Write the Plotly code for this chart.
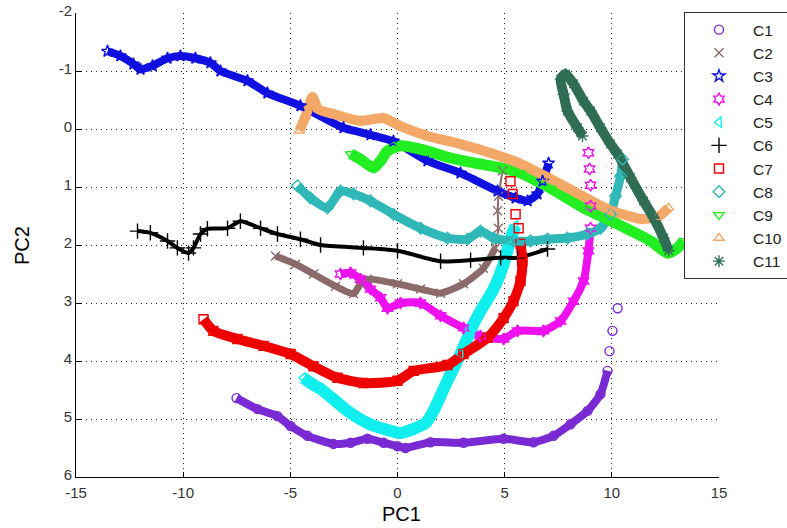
import plotly.graph_objects as go

# ---- data: principal-component trajectories for eleven cases ----
names = ["C1", "C2", "C3", "C4", "C5", "C6", "C7", "C8", "C9", "C10", "C11"]

c1_x = [-7.51, -6.53, -5.60, -4.99, -4.20, -2.99, -2.19, -1.40, -0.65, 0.00, 0.37, 1.54,
        3.08, 4.95, 6.35, 7.28, 8.07, 8.87, 9.47, 9.80, 9.89, 10.03, 10.27]
c1_y = [4.64, 4.83, 4.95, 5.12, 5.29, 5.43, 5.41, 5.34, 5.41, 5.47, 5.50, 5.40,
        5.41, 5.34, 5.40, 5.29, 5.09, 4.86, 4.57, 4.17, 3.83, 3.48, 3.09]

c2_x = [-5.69, -4.76, -3.92, -2.89, -2.05, -1.73, -1.40, 0.00, 1.07, 2.01, 3.08, 4.01,
        4.57, 4.71, 4.67, 4.71, 4.90]
c2_y = [2.19, 2.33, 2.50, 2.71, 2.84, 2.67, 2.59, 2.67, 2.76, 2.83, 2.67, 2.40,
        2.05, 1.71, 1.41, 1.16, 0.72]

c3_x = [-13.53, -12.93, -12.32, -11.99, -11.43, -10.73, -10.13, -9.43, -8.73, -8.26, -7.00,
        -6.07, -4.53, -2.52, -1.26, -0.19, 1.40, 2.94, 4.67, 5.51, 6.07, 6.53, 6.77, 7.05]
c3_y = [-1.34, -1.26, -1.12, -1.03, -1.09, -1.22, -1.26, -1.22, -1.14, -1.00, -0.83,
        -0.62, -0.40, -0.02, 0.10, 0.21, 0.55, 0.76, 1.07, 1.19, 1.24, 1.12, 0.90, 0.59]

c4_x = [-2.66, -2.19, -1.73, -1.26, -0.79, -0.47, 0.14, 1.07, 2.01, 3.08, 3.87, 4.95,
        5.60, 6.81, 7.61, 8.21, 8.68, 8.91, 9.01, 9.01, 9.01, 8.96, 8.91]
c4_y = [2.50, 2.48, 2.59, 2.76, 2.91, 3.09, 3.00, 3.00, 3.22, 3.43, 3.57, 3.62,
        3.48, 3.48, 3.31, 2.97, 2.62, 2.10, 1.71, 1.33, 0.97, 0.69, 0.41]

c5_x = [-4.39, -3.97, -3.59, -2.89, -2.33, -1.40, -0.65, 0.14, 0.75, 1.31, 1.68, 2.33,
        2.94, 3.55, 3.87, 4.48, 4.95, 5.18, 5.37, 5.51]
c5_y = [4.29, 4.40, 4.48, 4.69, 4.86, 5.07, 5.17, 5.24, 5.17, 5.07, 4.86, 4.34,
        3.88, 3.36, 3.14, 2.76, 2.33, 2.02, 1.79, 1.67]

c6_x = [-12.13, -11.53, -10.73, -10.27, -9.75, -9.52, -9.19, -8.87, -7.93, -7.33, -6.39,
        -5.60, -4.53, -3.59, -1.59, 0.00, 2.01, 3.41, 4.81, 5.60, 7.00]
c6_y = [1.76, 1.79, 1.93, 2.05, 2.14, 2.05, 1.81, 1.72, 1.71, 1.59, 1.71,
        1.81, 1.90, 2.00, 2.05, 2.10, 2.28, 2.26, 2.22, 2.22, 2.07]

c7_x = [-9.05, -8.59, -7.47, -6.25, -4.99, -3.92, -2.80, -1.59, 0.00, 0.75, 2.33, 3.08,
        4.20, 4.95, 5.41, 5.74, 5.83, 5.74, 5.65, 5.51, 5.37, 5.27]
c7_y = [3.28, 3.48, 3.62, 3.74, 3.88, 4.09, 4.29, 4.38, 4.34, 4.17, 4.07, 3.88,
        3.60, 3.26, 2.97, 2.62, 2.28, 1.98, 1.71, 1.47, 1.12, 0.90]

c8_x = [-4.67, -4.06, -3.27, -2.66, -2.05, -1.26, -0.19, 1.07, 2.33, 3.27, 3.87, 4.48,
        5.41, 6.21, 7.00, 7.93, 8.87, 9.47, 9.94, 10.17, 10.41, 10.50]
c8_y = [0.98, 1.19, 1.36, 1.07, 1.12, 1.24, 1.47, 1.71, 1.88, 1.90, 1.76, 1.88,
        1.93, 1.93, 1.90, 1.88, 1.81, 1.71, 1.47, 1.16, 0.81, 0.52]

c9_x = [-2.19, -1.73, -1.12, -0.79, -0.47, 0.14, 1.40, 2.47, 3.64, 4.81, 5.74, 7.14,
        8.68, 10.27, 11.81, 12.60, 13.07, 13.35]
c9_y = [0.43, 0.52, 0.67, 0.55, 0.38, 0.29, 0.38, 0.50, 0.59, 0.67, 0.76, 1.02,
        1.36, 1.64, 1.93, 2.14, 2.05, 1.93]

c10_x = [-4.57, -4.29, -3.97, -3.69, -2.99, -1.73, -0.65, 0.14, 1.40, 2.94, 4.48, 5.74,
         7.14, 8.21, 9.80, 11.34, 12.13, 12.65]
c10_y = [0.03, -0.22, -0.55, -0.34, -0.26, -0.14, -0.19, -0.05, 0.12, 0.26, 0.43, 0.60,
         0.86, 1.07, 1.38, 1.55, 1.52, 1.36]

c11_x = [8.63, 8.40, 7.93, 7.75, 7.61, 7.84, 8.21, 8.68, 9.01, 9.47, 9.94, 10.27,
         10.87, 11.48, 11.95, 12.41, 12.65]
c11_y = [0.12, -0.02, -0.31, -0.60, -0.86, -0.95, -0.78, -0.48, -0.31, -0.02, 0.26, 0.43,
         0.84, 1.24, 1.53, 1.88, 2.10]

xs = [c1_x, c2_x, c3_x, c4_x, c5_x, c6_x, c7_x, c8_x, c9_x, c10_x, c11_x]
ys = [c1_y, c2_y, c3_y, c4_y, c5_y, c6_y, c7_y, c8_y, c9_y, c10_y, c11_y]

x_ticks = [-15, -10, -5, 0, 5, 10, 15]
y_ticks = [-2, -1, 0, 1, 2, 3, 4, 5, 6]

# ---- styling ----
colors = ["#7a2ad2", "#8c6a6a", "#1010e0", "#ee10ee", "#10eeee", "#000000",
          "#ee0000", "#30b8b8", "#22ee22", "#f4a868", "#2f6e55"]
symbols = ["circle-open", "x-thin-open", "star-open", "hexagram-open",
           "triangle-left-open", "cross-thin-open", "square-open", "diamond-open",
           "triangle-down-open", "triangle-up-open", "asterisk-open"]
marker_size = [9, 9, 9, 9, 9, 11, 9, 9, 9, 9, 10]
band_width = [8, 7, 8, 8, 12, 4, 10, 9, 11, 10, 10]
band_points = [20, 13, 24, 19, 20, 21, 18, 22, 18, 18, 17]  # points covered by the dense band
tail_width = [0, 2, 0, 0, 0, 0, 0, 0, 0, 0, 0]              # thin link over the sparse end

fig = go.Figure()

# dense band under each series, plus a thin link along the sparse end
for i in range(len(names)):
    n = band_points[i]
    fig.add_trace(go.Scatter(
        x=xs[i][:n], y=ys[i][:n], mode="lines",
        line=dict(color=colors[i], width=band_width[i], shape="spline", smoothing=0.6),
        showlegend=False, hoverinfo="skip"))
    if tail_width[i] > 0 and n < len(xs[i]):
        fig.add_trace(go.Scatter(
            x=xs[i][n - 1:], y=ys[i][n - 1:], mode="lines",
            line=dict(color=colors[i], width=tail_width[i]),
            showlegend=False, hoverinfo="skip"))

# markers for each series (legend entries)
for i in range(len(names)):
    fig.add_trace(go.Scatter(
        x=xs[i], y=ys[i], mode="markers", name=names[i],
        marker=dict(symbol=symbols[i], size=marker_size[i], color=colors[i],
                    line=dict(color=colors[i], width=1.4))))

axis_font = dict(family="Liberation Sans, Arial, sans-serif", size=15, color="#333333")
grid_dash = "1px,4px"

fig.update_xaxes(
    range=[-15, 15], tickvals=x_ticks, ticktext=[str(v) for v in x_ticks],
    showgrid=True, gridcolor="#222222", griddash=grid_dash, gridwidth=1,
    zeroline=False, showline=True, linecolor="#000000", linewidth=1,
    ticks="inside", ticklen=5, tickcolor="#000000", tickfont=axis_font,
    ticklabelstandoff=2)
fig.update_yaxes(
    range=[6, -2], tickvals=y_ticks, ticktext=[str(v) for v in y_ticks],
    showgrid=True, gridcolor="#222222", griddash=grid_dash, gridwidth=1,
    zeroline=False, showline=True, linecolor="#000000", linewidth=1,
    ticks="inside", ticklen=5, tickcolor="#000000", tickfont=axis_font,
    ticklabelshift=2)

left, right, top, bottom = 76, 68, 13, 51
pw, ph = 787 - left - right, 528 - top - bottom

fig.update_layout(
    width=787, height=528,
    margin=dict(l=left, r=right, t=top, b=bottom, autoexpand=False),
    paper_bgcolor="white", plot_bgcolor="white",
    font=dict(family="Liberation Sans, Arial, sans-serif", color="#000000"),
    legend=dict(x=(684 - left) / pw, y=1.002, xanchor="left", yanchor="top",
                bgcolor="white", bordercolor="#333333", borderwidth=1,
                font=dict(size=15.5, color="#222222"), tracegroupgap=0,
                itemwidth=58, maxheight=500),
    annotations=[
        dict(text="PC1", x=(401 - left) / pw, y=(477 - 514) / ph,
             xref="paper", yref="paper", xanchor="center", yanchor="middle",
             showarrow=False, font=dict(size=20, color="#000000")),
        dict(text="PC2", x=(22 - left) / pw, y=(477 - 246) / ph,
             xref="paper", yref="paper", xanchor="center", yanchor="middle",
             showarrow=False, textangle=-90, font=dict(size=20, color="#000000")),
    ],
)

fig.write_html("out.html")
